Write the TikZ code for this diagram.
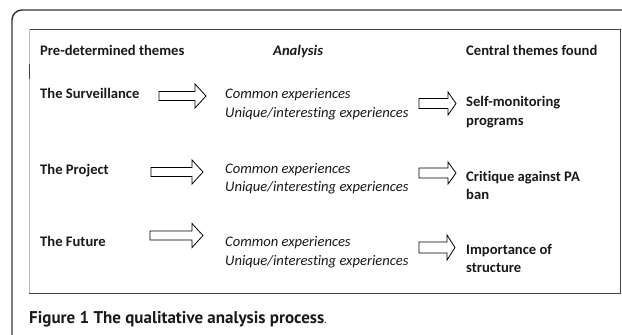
\documentclass[tikz,border=0pt]{standalone}
\usepackage{fontspec}
\setmainfont[Ligatures=NoCommon]{Carlito}
\newfontfamily\capfont{PT Sans}
\definecolor{txt}{HTML}{1A1A1A}
\definecolor{framec}{HTML}{333333}
\definecolor{boxc}{HTML}{444444}
\newcommand\blockarrow[7]{%
  \draw[barrow] (#2,{#4-#6}) -- (#5,{#4-#6}) -- (#5,{#4-#7}) -- (#3,#4)
    -- (#5,{#4+#7}) -- (#5,{#4+#6}) -- (#2,{#4+#6}) -- cycle;
  \coordinate (#1) at (#3,#4);}
\begin{document}
\begin{tikzpicture}[x=1pt,y=-1pt,
  lbl/.style={anchor=base west,inner sep=0pt,text=txt,font=\fontsize{14.6}{17}\selectfont\bfseries},
  itl/.style={anchor=base west,inner sep=0pt,text=txt,font=\fontsize{14.6}{17}\selectfont\itshape},
  barrow/.style={draw=black,fill=white,line width=0.8pt,line join=miter},
  frame/.style={draw=framec,line width=1.4pt},
  boxline/.style={draw=boxc,line width=1pt}]
\useasboundingbox (0,0) rectangle (622,335);
\fill[white] (0,0) rectangle (622,335);
% outer frame
\draw[frame,rounded corners=10pt] (12,336) -- (12,10) -- (623,10);
% inner box
\draw[boxline] (29,29) -- (620,29) -- (620,293) -- (29,293);
\draw[draw=gray!55,line width=1pt] (29,29) -- (29,293);
\draw[boxline] (29,64) -- (29,79);
% headers
\node[lbl] (h1) at (40,55.5) {Pre-determined themes};
\node[lbl,font=\fontsize{14.6}{17}\selectfont\bfseries\itshape] (h2) at (273,55.5) {Analysis};
\node[lbl] (h3) at (466,55.5) {Central themes found};
% row 1
\node[lbl] (t1) at (40,98.5) {The Surveillance};
\node[itl] (c1) at (225,98.5) {Common experiences};
\node[itl] (u1) at (225,117.5) {Unique/interesting experiences};
\node[lbl] (r1a) at (466,106) {Self-monitoring};
\node[lbl] (r1b) at (466,125) {programs};
% row 2
\node[lbl] (t2) at (40,174) {The Project};
\node[itl] (c2) at (225,173.5) {Common experiences};
\node[itl] (u2) at (225,191.5) {Unique/interesting experiences};
\node[lbl] (r2a) at (466,181) {Critique against PA};
\node[lbl] (r2b) at (466,199.5) {ban};
% row 3
\node[lbl] (t3) at (40,246.5) {The Future};
\node[itl] (c3) at (225,246.5) {Common experiences};
\node[itl] (u3) at (225,265.5) {Unique/interesting experiences};
\node[lbl] (r3a) at (466,254.5) {Importance of};
\node[lbl] (r3b) at (466,272.5) {structure};
% arrows
\blockarrow{a1}{159}{206}{96}{195}{4.5}{12}
\blockarrow{a2}{151}{203}{172}{192}{4.5}{12}
\blockarrow{a3}{150}{203}{235.5}{192}{4.5}{12}
\blockarrow{b1}{419}{456}{103.5}{448}{5}{11.5}
\blockarrow{b2}{419}{456}{173}{448}{5}{11}
\blockarrow{b3}{419}{455}{247.5}{447}{5.5}{12.5}
% caption
\node[anchor=base west,inner sep=0pt,text=txt,font=\capfont\fontsize{17}{20}\selectfont] (cap) at (29,323)
  {\textbf{Figure 1 The qualitative analysis process}{\fontsize{12}{14}\selectfont.}};
\end{tikzpicture}
\end{document}
